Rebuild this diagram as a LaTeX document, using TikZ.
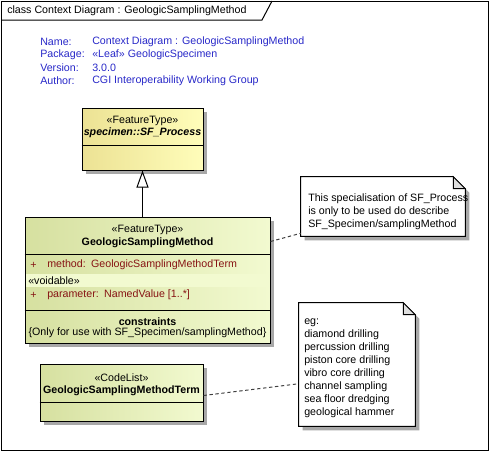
\documentclass[tikz,border=0pt]{standalone}
\usepackage{fontspec}
\setmainfont{Liberation Sans}
\usetikzlibrary{fit,shadows,arrows.meta}
\definecolor{infoblue}{RGB}{40,40,200}
\definecolor{attrred}{RGB}{135,20,20}
\definecolor{featleft}{RGB}{214,224,160}
\definecolor{featright}{RGB}{242,250,208}
\definecolor{procleft}{RGB}{236,226,148}
\definecolor{procright}{RGB}{255,253,186}
\definecolor{shadowgray}{RGB}{168,168,168}
\definecolor{foldgray}{RGB}{222,222,222}
\tikzset{
  umlfont/.style={font=\fontsize{8}{9.8}\selectfont},
  umlshadow/.style={drop shadow={shadow xshift=3pt, shadow yshift=-3pt, fill=shadowgray, opacity=1}},
  featurebox/.style={draw, line width=0.75pt, inner sep=0pt, left color=featleft, right color=featright, umlshadow},
  processbox/.style={draw, line width=0.75pt, inner sep=0pt, left color=procleft, right color=procright, umlshadow},
  notearea/.style={inner sep=0pt},
  notebox/.style={draw, line width=0.75pt, fill=white, umlshadow},
  infolabel/.style={anchor=west, inner sep=0pt, text=infoblue, umlfont},
  attr/.style={anchor=west, inner sep=0pt, text=attrred, umlfont},
  label/.style={inner sep=0pt, umlfont},
  sepline/.style={line width=0.75pt},
  noteline/.style={line width=0.75pt, black!75, dash pattern=on 2.5pt off 2pt},
  realize/.style={line width=0.75pt, -{Triangle[open, length=12.75pt, width=9pt, fill=white]}}
}

\begin{document}
\begin{tikzpicture}[x=0.75pt, y=-0.75pt]
  \useasboundingbox (0,0) rectangle (489,451);
  \draw[line width=0.75pt] (1,1) rectangle (488,450);
  \draw[line width=0.75pt] (1,20) -- (262,20) -- (272,1);
  \node[label, anchor=west] (title) at (7,10.5) {class Context Diagram : GeologicSamplingMethod};

  \node[infolabel] (nname) at (40,42) {Name:};
  \node[infolabel] (npkg) at (40,55) {Package:};
  \node[infolabel] (nver) at (40,68) {Version:};
  \node[infolabel] (nauth) at (40,81) {Author:};
  \node[infolabel] (vname) at (92,42) {Context Diagram : GeologicSamplingMethod};
  \node[infolabel] (vpkg) at (92,55) {«Leaf» GeologicSpecimen};
  \node[infolabel] (vver) at (92,68) {3.0.0};
  \node[infolabel] (vauth) at (92,81) {CGI Interoperability Working Group};

  % SF_Process
  \node[processbox, fit={(82,108) (203,170)}] (boxproc) {};
  \draw[sepline] (boxproc.west |- 0,145) -- (boxproc.east |- 0,145);
  \node[label] (stproc) at (142.5,121) {«FeatureType»};
  \node[label, font=\fontsize{8}{9.8}\selectfont\bfseries\itshape] (nmproc) at (142.5,133) {specimen::SF\_Process};

  % GeologicSamplingMethod
  \node[featurebox, fit={(25,217) (270,343)}] (boxgsm) {};
  \fill[featright] (26,274) rectangle (269,287);
  \draw[sepline] (boxgsm.west |- 0,254) -- (boxgsm.east |- 0,254);
  \draw[sepline] (boxgsm.west |- 0,310) -- (boxgsm.east |- 0,310);
  \node[label] (stgsm) at (147.5,230) {«FeatureType»};
  \node[label, font=\fontsize{8}{9.8}\selectfont\bfseries] (nmgsm) at (147.5,243) {GeologicSamplingMethod};
  \node[attr] (plmethod) at (30,265) {+};
  \node[attr] (atmethod) at (47,265) {method:\hspace{4pt}GeologicSamplingMethodTerm};
  \node[label, anchor=west] (stvoid) at (28,280.5) {«voidable»};
  \node[attr] (plparam) at (30,295) {+};
  \node[attr] (atparam) at (47,295) {parameter:\hspace{4pt}NamedValue [1..*]};
  \node[label, font=\fontsize{8}{9.8}\selectfont\bfseries] (cngsm) at (147.5,322) {constraints};
  \node[label] (crgsm) at (147.5,333) {\{Only for use with SF\_Specimen/samplingMethod\}};

  % GeologicSamplingMethodTerm
  \node[featurebox, fit={(40,364) (203,421)}] (boxterm) {};
  \draw[sepline] (boxterm.west |- 0,402) -- (boxterm.east |- 0,402);
  \node[label] (stterm) at (121.5,378) {«CodeList»};
  \node[label, font=\fontsize{8}{9.8}\selectfont\bfseries] (nmterm) at (121.5,391) {GeologicSamplingMethodTerm};

  % notes
  \node[notearea, fit={(301,177) (465,236)}] (notespec) {};
  \filldraw[notebox] (notespec.south west) -- (notespec.north west) -- ([xshift=-9pt]notespec.north east)
    -- ([yshift=-9pt]notespec.north east) -- (notespec.south east) -- cycle;
  \filldraw[line width=0.75pt, fill=foldgray] ([xshift=-9pt]notespec.north east) -- ([xshift=-9pt, yshift=-9pt]notespec.north east)
    -- ([yshift=-9pt]notespec.north east) -- cycle;
  \node[label, anchor=west, align=left] (txspec) at (308,212) {This specialisation of SF\_Process\\is only to be used do describe\\SF\_Specimen/samplingMethod};

  \node[notearea, fit={(299,303) (415,426)}] (noteterm) {};
  \filldraw[notebox] (noteterm.south west) -- (noteterm.north west) -- ([xshift=-9pt]noteterm.north east)
    -- ([yshift=-9pt]noteterm.north east) -- (noteterm.south east) -- cycle;
  \filldraw[line width=0.75pt, fill=foldgray] ([xshift=-9pt]noteterm.north east) -- ([xshift=-9pt, yshift=-9pt]noteterm.north east)
    -- ([yshift=-9pt]noteterm.north east) -- cycle;
  \node[label, anchor=west, align=left] (txterm) at (304,368) {eg:\\diamond drilling\\percussion drilling\\piston core drilling\\vibro core drilling\\channel sampling\\sea floor dredging\\geological hammer};

  \draw[realize] (boxgsm.north -| boxproc.south) -- (boxproc.south);
  \draw[noteline] ([yshift=-18.75pt]boxgsm.north east) -- ([yshift=2.25pt]notespec.south west);
  \draw[noteline] ([yshift=-24pt]boxterm.north east) -- ([yshift=-60.75pt]noteterm.north west);
\end{tikzpicture}
\end{document}
